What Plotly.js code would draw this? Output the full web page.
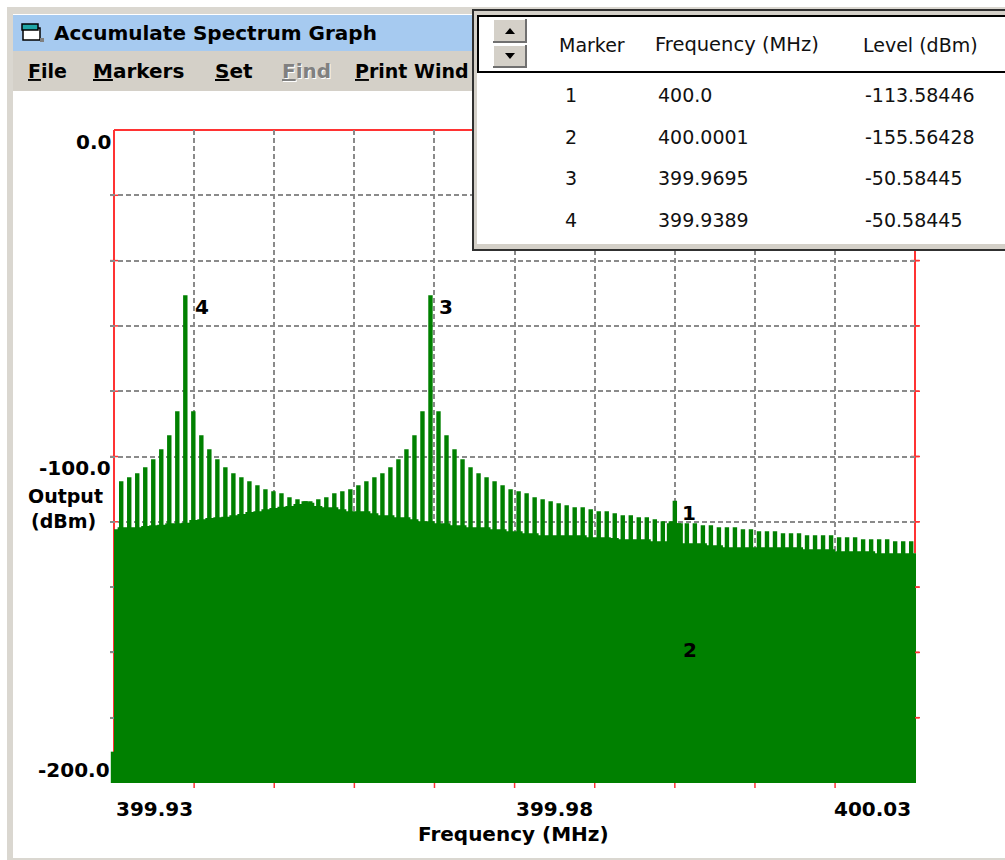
<!DOCTYPE html>
<html><head><meta charset="utf-8">
<script src="https://cdn.plot.ly/plotly-3.0.1.min.js"></script>
<style>html,body{margin:0;padding:0;background:#fff}#g{width:1005px;height:860px}</style>
</head><body><div id="g"></div>
<script>
// Data
const spikeFreqs = [
399.9309,399.9319,399.9329,399.9339,399.9349,399.9359,399.9369,399.9379,399.9389,399.9399,399.9409,399.9419,
399.9429,399.9439,399.9449,399.9459,399.9469,399.9479,399.9489,399.9499,399.9509,399.9519,399.9529,399.9539,
399.9545,399.9555,399.9565,399.9575,399.9585,399.9595,399.9605,399.9615,399.9625,399.9635,399.9645,399.9655,399.9665,399.9675,399.9685,
399.9695,
399.9705,399.9715,399.9725,399.9735,399.9745,399.9755,399.9765,399.9775,399.9785,399.9795,399.9805,399.9815,399.9825,399.9835,399.9845,399.9855,399.9865,399.9875,399.9885,399.9895,399.9905,
399.9915,399.9925,399.9935,399.9945,399.9955,399.9965,399.9975,399.9985,399.9995,
400.0005,400.0015,400.0025,400.0035,400.0045,400.0055,400.0065,400.0075,400.0085,400.0095,400.0105,400.0115,400.0125,400.0135,400.0145,400.0155,400.0165,400.0175,400.0185,400.0195,400.0205,400.0215,400.0225,400.0235,400.0245,400.0255,400.0265,400.0275,400.0285,400.0295];
const spikeLevels = [
-107.61,-106.38,-105.16,-103.32,-100.87,-97.81,-93.52,-86.17,-50.58,-86.17,-93.52,-97.81,
-100.87,-103.32,-105.16,-106.38,-107.61,-108.83,-110.06,-110.67,-111.28,-112.51,-113.12,-113.73,
-113.73,-113.12,-112.51,-111.28,-110.67,-110.06,-108.83,-107.61,-106.38,-105.16,-103.32,-100.87,-97.81,-93.52,-86.17,
-50.58,
-86.17,-93.52,-97.81,-100.87,-103.32,-105.16,-106.38,-107.61,-108.83,-110.06,-110.67,-111.28,-112.51,-113.12,-113.73,-114.35,-114.96,-115.57,-115.57,-116.18,-116.80,
-116.79,-117.41,-118.02,-118.02,-118.63,-118.63,-119.24,-119.86,-119.86,
-120.47,-120.47,-120.47,-121.08,-121.08,-121.69,-121.69,-121.69,-122.31,-122.31,-122.92,-122.92,-122.92,-123.53,-123.53,-123.53,-124.14,-124.14,-124.14,-124.14,-124.76,-124.76,-124.76,-125.37,-125.37,-125.37,-125.37,-125.98,-125.98,-125.98];
const floorLevels = [
-121.70,-121.70,-121.70,-121.29,-121.09,-120.88,-120.47,-120.47,-120.27,-119.45,-119.25,-118.84,
-118.64,-118.43,-118.02,-117.61,-117.00,-116.80,-116.18,-115.78,-115.37,-115.16,-114.55,-113.73,
-114.14,-115.16,-115.57,-115.57,-116.18,-116.80,-116.80,-116.80,-117.41,-118.02,-118.02,-118.64,-118.64,-119.25,-119.86,
-119.86,
-120.47,-120.47,-121.09,-121.09,-121.70,-121.70,-121.70,-122.31,-122.31,-122.92,-122.92,-123.54,-123.54,-124.15,-124.15,-124.15,-124.15,-124.15,-124.15,-124.76,-124.76,
-124.76,-124.96,-125.37,-125.37,-125.37,-125.37,-125.98,-125.98,-120.47,
-120.47,-126.60,-126.60,-126.60,-127.21,-127.21,-127.82,-127.82,-127.82,-127.82,-127.82,-127.82,-127.82,-127.82,-127.82,-127.82,-128.43,-128.43,-128.43,-128.43,-129.05,-129.05,-129.05,-129.05,-129.05,-129.66,-129.66,-129.66,-129.66,-129.66];
const floorEdgeFreqs = [399.93, 400.0301];
const floorEdgeLevels = [-122.31, -129.66];
const stubFreq = [399.9298];
const stubLevel = [-190.4];

const markerIds = ['1','2','3','4'];
const markerFreqs = [400.0, 400.0001, 399.9695, 399.9389];
const markerFreqText = ['400.0','400.0001','399.9695','399.9389'];
const markerLevels = [-113.58446, -155.56428, -50.58445, -50.58445];

const xLimits = [399.93, 400.03];
const xRange = [399.9295, 400.0301];
const yRange = [-200, 0];
const xGrid = [399.94,399.95,399.96,399.97,399.98,399.99,400.0,400.01,400.02];
const yGrid = [-20,-40,-60,-80,-100,-120,-140,-160,-180];
const xLabels = ['399.93','399.98','400.03'];
const yLabels = ['0.0','-100.0','-200.0'];
const menuItems = ['File','Markers','Set','Find','Print Wind'];
const tableHeaders = ['Marker','Frequency (MHz)','Level (dBm)'];

const GREEN='#008000', RED='#FF3333', BTN='#D4D0C8';
const L=110,R=916,T=130,B=783;
const FL=114,FR=915;
const px=v=>(v-L)/(R-L), py=v=>1-(v-T)/(B-T);
const BOLD='"DejaVu Sans", sans-serif';

const rect=(x0,y0,x1,y1,fill,line,lw,layer)=>({type:'rect',xref:'paper',yref:'paper',x0:px(x0),x1:px(x1),y0:py(y0),y1:py(y1),
  fillcolor:fill||'rgba(0,0,0,0)',line:{color:line||'rgba(0,0,0,0)',width:lw||0},layer:layer||'above'});
const poly=(pts,fill)=>({type:'path',xref:'paper',yref:'paper',layer:'above',fillcolor:fill,line:{width:0},
  path:'M'+pts.map(p=>px(p[0])+','+py(p[1])).join('L')+'Z'});
const note=(text,x,y,xa,size,bold,color)=>({xref:'paper',yref:'paper',x:px(x),y:py(y),text:bold?'<b>'+text+'</b>':text,showarrow:false,
  xanchor:xa,yanchor:'middle',align:xa,borderpad:0,font:{family:BOLD,size:size,color:color||'#000'}});

const redLine=(w)=>({color:RED,width:w});
const shapes=[
  {type:'line',xref:'paper',yref:'paper',x0:px(FL),x1:px(FL),y0:py(T),y1:py(B),line:redLine(2),layer:'below'},
  {type:'line',xref:'paper',yref:'paper',x0:px(FL),x1:px(FR),y0:py(T),y1:py(T),line:redLine(2),layer:'below'},
  {type:'line',xref:'paper',yref:'y',x0:px(FR),x1:px(FR),y0:0,y1:floorEdgeLevels[1],line:redLine(2),layer:'below'},
];
yGrid.forEach(v=>{
  [FL,FR].forEach(xa=>shapes.push({type:'line',xref:'paper',yref:'y',x0:px(xa-4),x1:px(xa+4),y0:v,y1:v,line:redLine(1.5),layer:'below'}));
});
// right-hand y ticks stick out past the frame
yGrid.forEach(v=>shapes.push({type:'line',xref:'paper',yref:'y',xsizemode:'pixel',xanchor:px(FR),x0:0,x1:5,y0:v,y1:v,line:redLine(1.5),layer:'above'}));
xGrid.forEach(v=>{
  shapes.push({type:'line',xref:'x',yref:'paper',x0:v,x1:v,y0:py(B),y1:py(B+5),line:redLine(1.5),layer:'below'});
});
// window chrome
shapes.push(
  rect(7,7,1010,14,'#DAD7D0'),
  rect(7,7,13,858,'#DAD7D0'),
  rect(7,858,1010,860,'#DAD7D0'),
  rect(13,15,480,51,'#A6CAF0'),
  rect(13,51,480,91,BTN),
  // window icon
  rect(23,28,40,40,'#ffffff','#000',1.5),
  rect(22,24,38,30,'#1FA6A6','#000',1.5),
  rect(40,38,44,42,'#808080'),
  // marker table
  rect(472,9,1010,251,'#303030'),
  rect(474,11,1010,249,BTN),
  rect(477,15,1010,244,'#ffffff'),
  rect(478,16,1010,72,'#ffffff','#000',2),
  rect(493,19,527,43,'#707070'),
  rect(493,19,525,41,'#ffffff'),
  rect(494,20,525,41,BTN),
  rect(493,45,527,68,'#707070'),
  rect(493,45,525,66,'#ffffff'),
  rect(494,46,525,66,BTN),
  poly([[505,34],[515,34],[510,28]],'#000'),
  poly([[505,53],[515,53],[510,59]],'#000')
);

const annotations=[];
annotations.push(note('Accumulate Spectrum Graph',53,33,'left',20,true));
const menuX=[27,92,214,281,354];
const menuSize=[19,20,20,20,19];
menuItems.forEach((m,i)=>{
  const label='<span style="text-decoration:underline">'+m[0]+'</span>'+m.slice(1);
  if(m==='Find'){
    annotations.push(note(label,menuX[i]+1,72,'left',menuSize[i],true,'#ffffff'));
    annotations.push(note(label,menuX[i],71,'left',menuSize[i],true,'#808080'));
  } else annotations.push(note(label,menuX[i],71,'left',menuSize[i],true));
});
const headerX=[558,654,862];
const headerSize=[19,19.5,19];
tableHeaders.forEach((h,i)=>annotations.push(note(h,headerX[i],45,'left',headerSize[i],false,'#111')));
const rowY=[95,137,178,220];
markerIds.forEach((m,i)=>{
  annotations.push(note(m,571,rowY[i],'center',19,false,'#111'));
  annotations.push(note(markerFreqText[i],657,rowY[i],'left',19,false,'#111'));
  annotations.push(note(String(markerLevels[i]),864,rowY[i],'left',19,false,'#111'));
});
annotations.push(note(yLabels[0],112,142,'right',20,true));
annotations.push(note(yLabels[1],112,468,'right',20,true));
annotations.push(note(yLabels[2],111,770,'right',20,true));
annotations.push(note(xLabels[0],115,809,'left',20,true));
annotations.push(note(xLabels[1],515,809,'left',20,true));
annotations.push(note(xLabels[2],912,809,'right',20,true));
annotations.push(note('Output',104,496,'right',19,true));
annotations.push(note('(dBm)',97,521,'right',19,true));
annotations.push(note('Frequency (MHz)',513,834,'center',20,true));
const markerShift=[6,6,8,9];
markerIds.forEach((m,i)=>annotations.push({xref:'x',yref:'y',x:markerFreqs[i],y:markerLevels[i],text:'<b>'+m+'</b>',showarrow:false,
  xanchor:'left',yanchor:'middle',xshift:markerShift[i],yshift:-12,borderpad:0,font:{family:BOLD,size:20,color:'#000'}}));

const floorX=[floorEdgeFreqs[0],...spikeFreqs,floorEdgeFreqs[1]];
const floorY=[floorEdgeLevels[0],...floorLevels,floorEdgeLevels[1]];
const spikeW=0.00055;
const traces=[
  {type:'scatter',mode:'lines',x:floorEdgeFreqs,y:[yRange[0],yRange[0]],line:{width:0,color:GREEN},hoverinfo:'skip',showlegend:false},
  {type:'scatter',mode:'lines',x:floorX,y:floorY,line:{width:0,color:GREEN,shape:'hvh'},fill:'tonexty',fillcolor:GREEN,showlegend:false,name:'Noise floor'},
  {type:'bar',x:spikeFreqs,y:spikeLevels.map(v=>v-yRange[0]),base:yRange[0],width:spikeW,marker:{color:GREEN,line:{width:0}},showlegend:false,name:'Spectrum'},
  {type:'bar',x:[markerFreqs[0]],y:[markerLevels[0]-yRange[0]],base:yRange[0],width:spikeW,marker:{color:GREEN,line:{width:0}},showlegend:false,name:'Marker 1'},
  {type:'bar',x:stubFreq,y:stubLevel.map(v=>v-yRange[0]),base:yRange[0],width:0.0004,marker:{color:GREEN,line:{width:0}},showlegend:false,name:'Edge'}
];
const layout={
  width:1005,height:860,autosize:false,
  margin:{l:L,r:1005-R,t:T,b:860-B,pad:0},
  paper_bgcolor:'#fff',plot_bgcolor:'#fff',
  barmode:'overlay',showlegend:false,
  font:{family:BOLD,size:20,color:'#000'},
  xaxis:{range:xRange,type:'linear',tickmode:'array',tickvals:xGrid,showticklabels:false,ticks:'',showline:false,zeroline:false,
    showgrid:true,gridcolor:'#8a8a8a',gridwidth:1.5,griddash:'5px,3px'},
  yaxis:{range:yRange,type:'linear',tickmode:'array',tickvals:yGrid,showticklabels:false,ticks:'',showline:false,zeroline:false,
    showgrid:true,gridcolor:'#8a8a8a',gridwidth:1.5,griddash:'5px,3px'},
  shapes,annotations
};
Plotly.newPlot('g',traces,layout,{displayModeBar:false,responsive:false});
</script></body></html>
